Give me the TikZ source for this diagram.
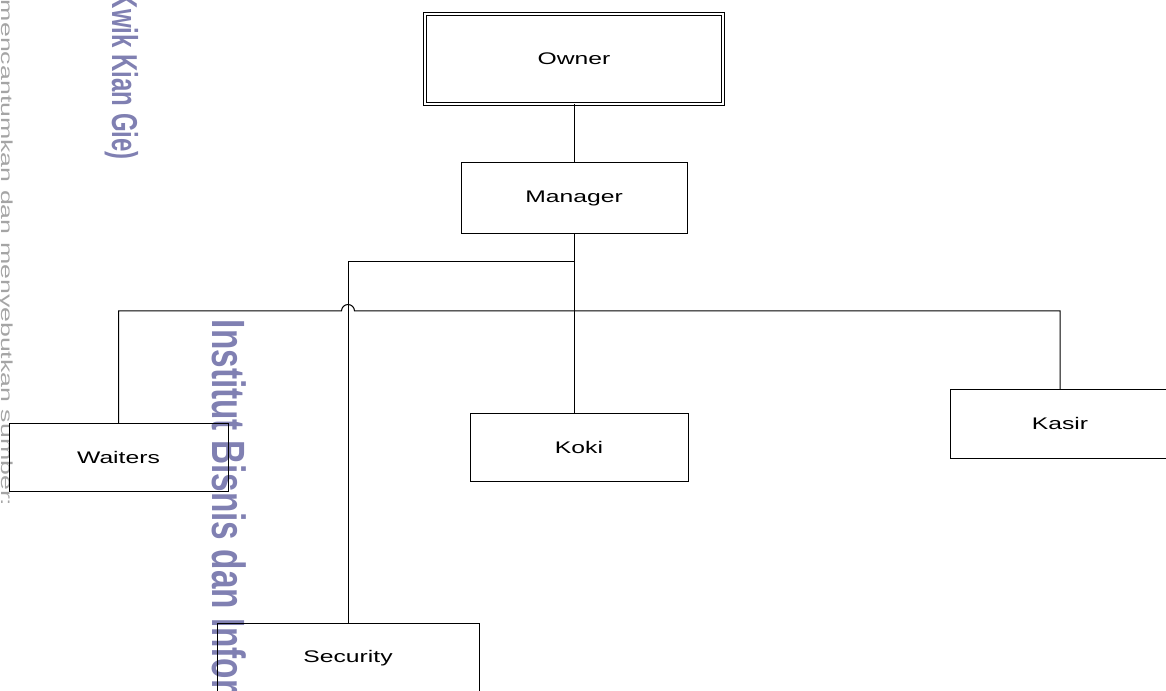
\documentclass[tikz,border=0pt]{standalone}
\usepackage{fontspec}
\setmainfont[FakeStretch=1.47]{Liberation Sans}
\newfontfamily\markfont{Liberation Sans}
\usepackage{graphicx}
\begin{document}
\begin{tikzpicture}[x=0.75pt,y=0.75pt]
\newcommand{\pxl}{0.75pt}
\tikzstyle{postbox}=[draw,line width=\pxl,rectangle,inner sep=0pt,outer sep=0pt,font=\fontsize{12.6}{15}\selectfont]
\tikzstyle{headbox}=[postbox,double,double distance=2*\pxl]
\tikzstyle{link}=[line width=\pxl]
\definecolor{markblue}{RGB}{128,128,178}
\definecolor{markgray}{RGB}{165,165,165}
\tikzstyle{wmark}=[rotate=-90,inner sep=0pt,outer sep=0pt]
\useasboundingbox (0,0) rectangle (1166,-691);
\clip (0,0) rectangle (1166,-691);
% watermark
\node[wmark,anchor=base west,markgray,font=\markfont\fontsize{12}{14}\selectfont] (cite) at (2,0) {\scalebox{1.67}[1]{mencantumkan dan menyebutkan sumber:}};
\node[wmark,anchor=base east,markblue,font=\markfont\bfseries\fontsize{18}{22}\selectfont] (kkg) at (112,-160) {\scalebox{1}[1.5]{Kwik Kian Gie)}};
\node[wmark,anchor=base west,markblue,font=\markfont\bfseries\fontsize{25}{30}\selectfont] (inst) at (212,-320) {\scalebox{1}[1.4]{Institut Bisnis dan Informatika}};
% posts
\node[headbox,minimum width=298*\pxl,minimum height=90*\pxl] (owner) at (574,-59) {Owner};
\node[postbox,minimum width=226*\pxl,minimum height=71*\pxl] (manager) at (574,-198.5) {Manager};
\node[postbox,minimum width=219*\pxl,minimum height=68*\pxl] (waiters) at (118.5,-457) {Waiters};
\node[postbox,minimum width=218*\pxl,minimum height=68*\pxl] (koki) at (579,-447) {Koki};
\node[postbox,minimum width=220*\pxl,minimum height=69*\pxl] (kasir) at (1060,-423.5) {Kasir};
\node[postbox,minimum width=262*\pxl,minimum height=70*\pxl] (security) at (348,-658) {Security};
\coordinate (fork) at (574,-262);
\coordinate (hop) at (348,-311);
% links
\draw[link] (owner.south) -- (manager.north);
\draw[link] (manager.south) -- (manager.south |- koki.north);
\draw[link] (fork) -| (security.north);
\draw[link] (waiters.north) |- ([xshift=-6.5*\pxl]hop) arc[start angle=180,end angle=0,radius=6.5*\pxl] -| (kasir.north);
\end{tikzpicture}
\end{document}
